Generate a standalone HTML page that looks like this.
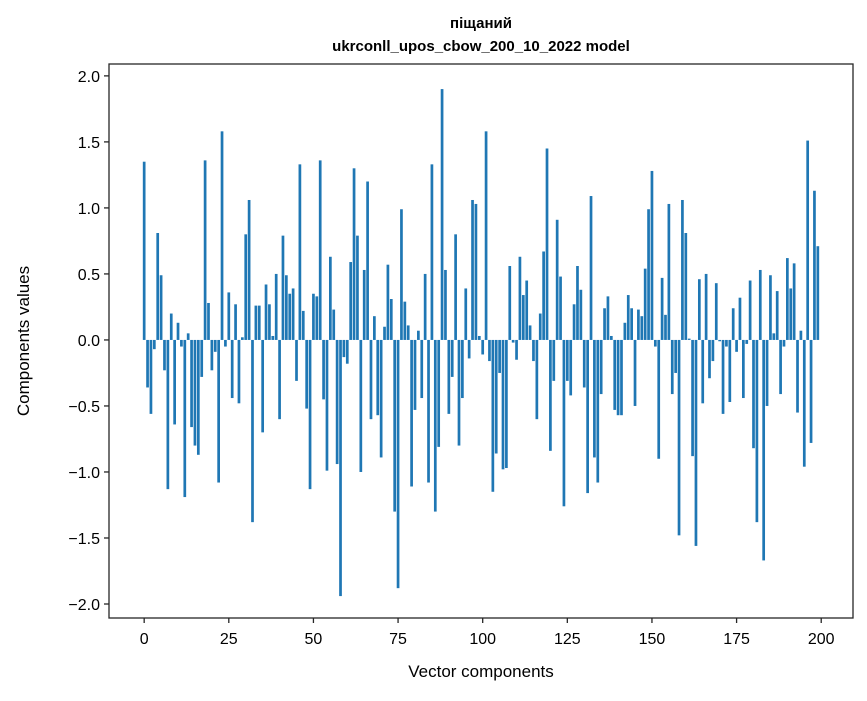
<!DOCTYPE html>
<html><head><meta charset="utf-8"><style>
body{margin:0;background:#fff;}
svg text{font-family:"Liberation Sans","DejaVu Sans",sans-serif;fill:#000;}
</style></head><body>
<svg width="867" height="696" xmlns="http://www.w3.org/2000/svg">
<rect width="867" height="696" fill="#fff"/>
<text x="481" y="28" text-anchor="middle" font-size="15" font-weight="bold">піщаний</text>
<text x="481" y="51" text-anchor="middle" font-size="15" font-weight="bold">ukrconll_upos_cbow_200_10_2022 model</text>
<g id="bars"></g>
<g id="xticks"></g>
<g id="yticks"></g>
<rect x="109" y="64" width="744" height="554" fill="none" stroke="#262626" stroke-width="1.3"/>
<text x="481" y="677" text-anchor="middle" font-size="17">Vector components</text>
<text transform="translate(29,341) rotate(-90)" text-anchor="middle" font-size="17">Components values</text>
</svg>
<script>
const values = [1.35,-0.36,-0.56,-0.07,0.81,0.49,-0.23,-1.13,0.20,-0.64,
0.13,-0.05,-1.19,0.05,-0.66,-0.80,-0.87,-0.28,1.36,0.28,
-0.23,-0.09,-1.08,1.58,-0.05,0.36,-0.44,0.27,-0.48,0.02,
0.80,1.06,-1.38,0.26,0.26,-0.70,0.42,0.27,0.03,0.50,
-0.60,0.79,0.49,0.35,0.39,-0.31,1.33,0.22,-0.52,-1.13,
0.35,0.33,1.36,-0.45,-0.99,0.63,0.23,-0.94,-1.94,-0.13,
-0.18,0.59,1.30,0.79,-1.00,0.53,1.20,-0.60,0.18,-0.57,
-0.89,0.10,0.57,0.31,-1.30,-1.88,0.99,0.29,0.11,-1.11,
-0.53,0.07,-0.44,0.50,-1.08,1.33,-1.30,-0.81,1.90,0.53,
-0.56,-0.28,0.80,-0.80,-0.44,0.39,-0.14,1.06,1.03,0.03,
-0.11,1.58,-0.16,-1.15,-0.86,-0.25,-0.98,-0.97,0.56,-0.02,
-0.15,0.63,0.34,0.45,0.11,-0.16,-0.60,0.20,0.67,1.45,
-0.84,-0.31,0.91,0.48,-1.26,-0.31,-0.42,0.27,0.56,0.38,
-0.36,-1.16,1.09,-0.89,-1.08,-0.41,0.24,0.33,0.03,-0.53,
-0.57,-0.57,0.13,0.34,0.24,-0.50,0.23,0.18,0.54,0.99,
1.28,-0.05,-0.90,0.47,0.19,1.03,-0.41,-0.25,-1.48,1.06,
0.81,0.01,-0.88,-1.56,0.46,-0.48,0.50,-0.29,-0.16,0.43,
-0.01,-0.56,-0.05,-0.47,0.24,-0.09,0.32,-0.44,-0.03,0.45,
-0.82,-1.38,0.53,-1.67,-0.50,0.49,0.05,0.37,-0.41,-0.05,
0.62,0.39,0.58,-0.55,0.07,-0.96,1.51,-0.78,1.13,0.71];
const xTickVals = [0,25,50,75,100,125,150,175,200];
const yTickVals = [-2.0,-1.5,-1.0,-0.5,0.0,0.5,1.0,1.5,2.0];
const yTickLabels = ["\u22122.0","\u22121.5","\u22121.0","\u22120.5","0.0","0.5","1.0","1.5","2.0"];

const NS="http://www.w3.org/2000/svg";
const L=109,R=853,T=64,B=618;
const xmin=-10.39,xmax=209.39,ymin=-2.106,ymax=2.09;
const xs=v=>L+(v-xmin)/(xmax-xmin)*(R-L);
const ys=v=>B-(v-ymin)/(ymax-ymin)*(B-T);
const bars=document.getElementById('bars');
values.forEach((v,i)=>{
  const r=document.createElementNS(NS,'rect');
  const x0=xs(i-0.4),x1=xs(i+0.4);
  const y0=ys(Math.max(v,0)),y1=ys(Math.min(v,0));
  r.setAttribute('x',x0);r.setAttribute('width',x1-x0);
  r.setAttribute('y',y0);r.setAttribute('height',Math.max(y1-y0,0.3));
  r.setAttribute('fill','#1f77b4');
  
  
  bars.appendChild(r);
});
const xg=document.getElementById('xticks');
xTickVals.forEach(v=>{
  const x=xs(v);
  const l=document.createElementNS(NS,'line');
  l.setAttribute('x1',x);l.setAttribute('x2',x);l.setAttribute('y1',B);l.setAttribute('y2',B+5);
  l.setAttribute('stroke','#262626');l.setAttribute('stroke-width','1.3');
  
  
  xg.appendChild(l);
  const t=document.createElementNS(NS,'text');
  t.setAttribute('x',x);t.setAttribute('y',B+26);t.setAttribute('text-anchor','middle');t.setAttribute('font-size','16');
  t.textContent=String(v);
  
  
  xg.appendChild(t);
});
const yg=document.getElementById('yticks');
yTickVals.forEach((v,i)=>{
  const y=ys(v);
  const l=document.createElementNS(NS,'line');
  l.setAttribute('x1',L-5);l.setAttribute('x2',L);l.setAttribute('y1',y);l.setAttribute('y2',y);
  l.setAttribute('stroke','#262626');l.setAttribute('stroke-width','1.3');
  
  
  yg.appendChild(l);
  const t=document.createElementNS(NS,'text');
  t.setAttribute('x',L-9);t.setAttribute('y',y+6);t.setAttribute('text-anchor','end');t.setAttribute('font-size','16');
  t.textContent=yTickLabels[i];
  
  
  yg.appendChild(t);
});
</script>
</body></html>
